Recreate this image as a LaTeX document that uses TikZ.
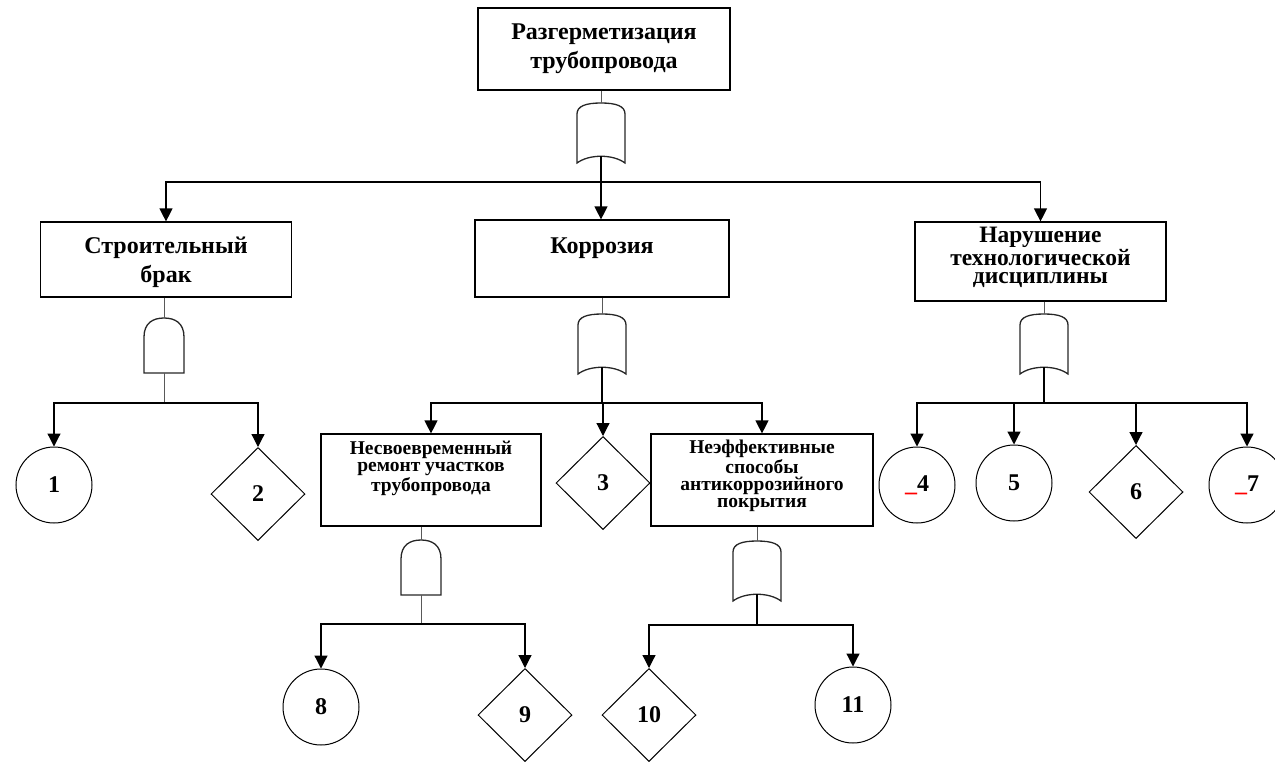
\documentclass[tikz,border=0pt]{standalone}
\usepackage{fontspec}
\setmainfont{Liberation Serif}
\usetikzlibrary{shapes.geometric,arrows.meta}

\tikzset{
  event/.style={draw, line width=1.2pt, align=center, inner sep=0pt,
    font=\bfseries\fontsize{24}{29}\selectfont},
  subevent/.style={event, font=\bfseries\fontsize{19.5}{17}\selectfont},
  basic/.style={draw, circle, line width=1pt, minimum size=76pt, inner sep=0pt,
    font=\bfseries\fontsize{24}{24}\selectfont},
  undev/.style={draw, diamond, line width=1pt, minimum width=94pt, minimum height=93pt,
    inner sep=0pt, font=\bfseries\fontsize{24}{24}\selectfont},
  arr/.style={line width=1.2pt, -{Triangle[width=13pt,length=13pt]}},
  bar/.style={line width=1.2pt},
  stem/.style={line width=1pt, black!65},
  gate/.style={line width=1.3pt, black!85},
  orgate/.pic={
    \draw[gate] (-24,60) -- (-24,11) .. controls (-24,3) and (-15,0) .. (0,0)
      .. controls (15,0) and (24,3) .. (24,11) -- (24,60)
      .. controls (12,51) and (-12,51) .. (-24,60) -- cycle;
    \coordinate (-in) at (0,0);
    \coordinate (-out) at (0,53);
  },
  andgate/.pic={
    \draw[gate] (-20,55) -- (-20,19) .. controls (-20,5) and (-11,0) .. (0,0)
      .. controls (11,0) and (20,5) .. (20,19) -- (20,55) -- cycle;
    \coordinate (-in) at (0,0);
    \coordinate (-out) at (0,55);
  }
}

\begin{document}
\begin{tikzpicture}[x=1pt, y=-1pt]
\useasboundingbox (0,0) rectangle (1275,761);

% top event
\node[event, minimum width=252pt, minimum height=82pt, text height=44pt, text depth=6pt]
  (top) at (604,49) {Разгерметизация\\трубопровода};
\pic (g0) at (601,103) {orgate};

% second level
\node[event, minimum width=251pt, minimum height=75pt, text height=45pt, text depth=0pt]
  (stroi) at (166,259.5) {Строительный\\брак};
\node[event, minimum width=254pt, minimum height=77pt, text height=15pt, text depth=26pt]
  (korr) at (602,258.5) {Коррозия};
\node[event, minimum width=251pt, minimum height=79pt, text height=50pt, text depth=7pt,
  font=\bfseries\fontsize{23.5}{18}\selectfont]
  (narush) at (1040.5,261.5) {Нарушение\\технологической\\дисциплины};

\pic (g1) at (164,318) {andgate};
\pic (g2) at (602,314) {orgate};
\pic (g3) at (1044,314) {orgate};

% third level
\node[basic] (c1) at (54,485) {1};
\node[undev] (d2) at (258,494) {2};
\node[subevent, minimum width=220pt, minimum height=92pt, text height=48pt, text depth=26pt]
  (nesv) at (431,480) {Несвоевременный\\ремонт участков\\трубопровода};
\node[undev] (d3) at (603,483) {3};
\node[subevent, minimum width=222pt, minimum height=92pt, text height=65pt, text depth=11pt]
  (neeff) at (762,480) {Неэффективные\\способы\\антикоррозийного\\покрытия};
\node[basic] (c4) at (917,485) {\textcolor{red}{\_}4};
\node[basic] (c5) at (1014,483) {5};
\node[undev] (d6) at (1136,492) {6};
\node[basic] (c7) at (1247,485) {\textcolor{red}{\_}7};

\pic (g4) at (421,540) {andgate};
\pic (g5) at (757,541) {orgate};

% fourth level
\node[basic] (c8) at (321,707) {8};
\node[undev] (d9) at (525,715) {9};
\node[undev] (d10) at (649,715) {10};
\node[basic] (c11) at (853,705) {11};

% junctions
\coordinate (j0) at (601,182);
\coordinate (j1) at (164,403);
\coordinate (j2) at (602,403);
\coordinate (j3) at (1044,403);
\coordinate (j4) at (421,624);
\coordinate (j5) at (757,625);

% connectors
\draw[stem] (g0-in |- top.south) -- (g0-in);
\draw[bar] (g0-out) -- (j0);
\draw[arr] (j0) -| (stroi.north);
\draw[arr] (j0) -| (narush.north);
\draw[arr] (j0) -- (j0 |- korr.north);

\draw[stem] (g1-in |- stroi.south) -- (g1-in);
\draw[stem] (g1-out) -- (j1);
\foreach \n in {c1,d2} \draw[arr] (j1) -| (\n.north);

\draw[stem] (g2-in |- korr.south) -- (g2-in);
\draw[bar] (g2-out) -- (j2);
\foreach \n in {nesv,d3,neeff} \draw[arr] (j2) -| (\n.north);

\draw[stem] (g3-in |- narush.south) -- (g3-in);
\draw[bar] (g3-out) -- (j3);
\foreach \n in {c4,c5,d6,c7} \draw[arr] (j3) -| (\n.north);

\draw[stem] (g4-in |- nesv.south) -- (g4-in);
\draw[stem] (g4-out) -- (j4);
\foreach \n in {c8,d9} \draw[arr] (j4) -| (\n.north);

\draw[stem] (g5-in |- neeff.south) -- (g5-in);
\draw[bar] (g5-out) -- (j5);
\foreach \n in {d10,c11} \draw[arr] (j5) -| (\n.north);
\end{tikzpicture}
\end{document}
